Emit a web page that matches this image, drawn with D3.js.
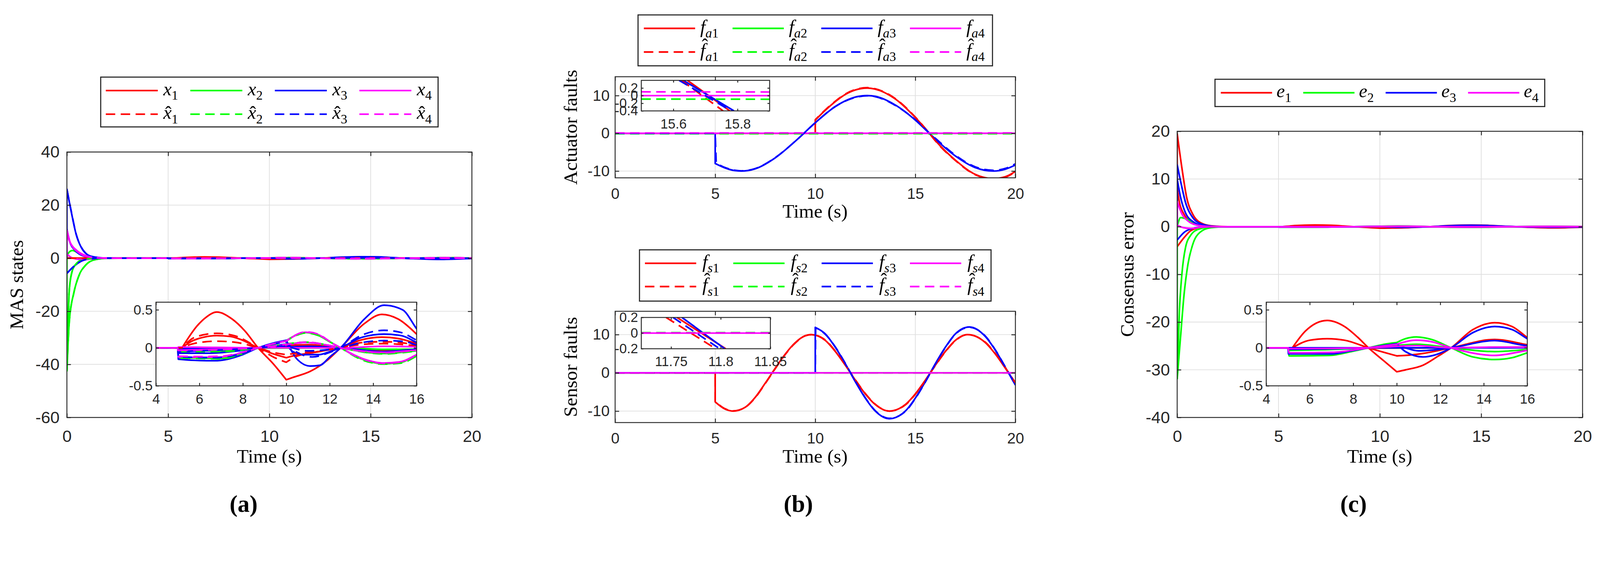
<!DOCTYPE html>
<html>
<head>
<meta charset="utf-8">
<title>MAS states, faults and consensus error</title>
<script src="https://d3js.org/d3.v7.min.js"></script>
<style>
  html, body { margin: 0; padding: 0; background: #fff; overflow: hidden; }
</style>
</head>
<body>
<script>
// ---------------- ticks ----------------
var xtMain = [0, 5, 10, 15, 20];
var ytA = [-60, -40, -20, 0, 20, 40];
var ytB = [-10, 0, 10];
var ytC = [-40, -30, -20, -10, 0, 10, 20];
var xtInset = [4, 6, 8, 10, 12, 14, 16];
var ytInset = [-0.5, 0, 0.5];
var xtInsetFa = [15.6, 15.8];
var ytInsetFa = [-0.4, -0.2, 0, 0.2];
var xtInsetFs = [11.75, 11.8, 11.85];
var ytInsetFs = [-0.2, 0, 0.2];

// ---------------- panel (a): states (solid) and estimates (dashed), [t, value] ----------------
// a repeated time value marks a corner / jump
var xa_r1 = [[0,0],[2,0],[4,0],[5.2,0],[5.2,0],[5.9,0.29],[6.3,0.40],[6.8,0.47],[7.5,0.38],[8.1,0.22],[8.7,0],[9.4,-0.21],[10,-0.42],[10,-0.42],[10.3,-0.39],[11.1,-0.31],[11.9,-0.16],[12.5,0],[13.6,0.32],[14.4,0.44],[15.2,0.37],[16,0.18],[17,-0.12],[18.2,-0.35],[19.2,-0.25],[20,-0.05]];
var xa_r2 = [[0,0],[5.2,0],[5.2,0],[5.6,0.08],[6.2,0.14],[6.8,0.16],[7.4,0.15],[7.9,0.11],[8.7,0],[9.3,-0.07],[10,-0.13],[10,-0.13],[10.4,-0.10],[11.1,-0.07],[11.9,-0.03],[12.5,0],[13.4,0.10],[14.4,0.14],[15.2,0.12],[16,0.055],[17.5,-0.08],[19,-0.1],[20,-0.02]];
var xa_r3 = [[0,0],[5.2,0],[6.8,-0.03],[8.7,0],[10,0.03],[11,0.04],[12.5,0],[14.4,-0.04],[16,-0.02],[20,0.02]];
var xa_g1 = [[0,0],[0,-42.5],[0.12,-23.6],[0.34,-13.1],[0.58,-6.8],[0.93,-2.6],[1.41,-0.5],[2,-0.05],[3,0],[5,0],[5,0],[5.03,-0.13],[5.03,-0.13],[6,-0.135],[7,-0.14],[7.9,-0.08],[8.7,0],[9.5,0.06],[10,0.095],[10,0.095],[10.4,0.16],[10.9,0.2],[11.5,0.16],[12,0.08],[12.5,0],[13.5,-0.15],[14.5,-0.21],[15.3,-0.19],[16,-0.10],[17.5,0.1],[19,0.18],[20,0.08]];
var xa_g2 = [[0,-42],[0.05,-29],[0.11,-13],[0.23,-5.8],[0.46,-2.1],[0.82,-0.5],[1.5,0],[5,0],[5,0],[5.03,-0.04],[5.03,-0.04],[7,-0.04],[8.7,0],[10,0.047],[10,0.047],[10.9,0.07],[12,0.03],[12.5,0],[14.5,-0.075],[16,-0.04],[20,0.02]];
var xa_g3 = [[0,0],[0.1,2.2],[0.28,2.9],[0.64,1.6],[1.23,0.26],[2,0],[5,0],[5.03,-0.01],[12.5,0],[14.5,-0.02],[20,0]];
var xa_b1 = [[0,0],[0,26],[0.22,17.3],[0.46,8.9],[0.7,4.2],[0.93,1.8],[1.3,0.5],[1.8,0.1],[2.5,0],[4,0],[5,0],[5,0],[5.03,-0.15],[5.03,-0.15],[5.8,-0.165],[6.7,-0.17],[7.3,-0.15],[7.9,-0.10],[8.7,0],[9.5,0.07],[10,0.10],[10,0.10],[10.5,-0.15],[11.1,-0.24],[11.55,-0.23],[12,-0.12],[12.5,0],[13.6,0.38],[14.5,0.56],[15.35,0.50],[16,0.25],[17,-0.12],[18.3,-0.45],[19.3,-0.3],[20,-0.1]];
var xa_b2 = [[0,11],[0.15,6],[0.4,3],[0.7,1.2],[1.2,0.3],[2,0],[5,0],[5,0],[5.03,-0.07],[5.03,-0.07],[6.5,-0.07],[7.8,-0.04],[8.7,0],[9.5,0.03],[10,0.05],[10,0.05],[10.3,-0.05],[10.8,-0.09],[11.5,-0.09],[12,-0.05],[12.5,0],[13.5,0.14],[14.5,0.18],[15.3,0.16],[16,0.07],[17.5,-0.12],[19,-0.14],[20,-0.05]];
var xa_b3 = [[0,-5.7],[0.34,-3.1],[0.7,-1.15],[1.1,-0.3],[1.8,0],[5,0],[5,0],[5.03,-0.01],[5.03,-0.01],[8.7,0],[10,0.01],[11,0.02],[12.5,0],[14.5,-0.05],[16,-0.02],[20,0]];
var xa_m1 = [[0,0],[0,10.5],[0.17,5.8],[0.46,3.1],[0.82,1.3],[1.29,0.26],[2,0],[5,0],[5,0],[5.03,-0.12],[5.03,-0.12],[6,-0.125],[7,-0.12],[7.9,-0.07],[8.7,0],[9.5,0.06],[10,0.09],[10,0.09],[10.4,0.16],[10.9,0.205],[11.5,0.17],[12,0.08],[12.5,0],[13.5,-0.14],[14.5,-0.2],[15.3,-0.18],[16,-0.09],[17.5,0.1],[19,0.17],[20,0.07]];
var xa_m2 = [[0,10],[0.1,7],[0.3,4.2],[0.6,2],[1,0.6],[1.6,0.1],[2.2,0],[5,0],[5,0],[5.03,-0.03],[5.03,-0.03],[8.7,0],[10,0.04],[10.9,0.07],[12,0.03],[12.5,0],[14.5,-0.06],[16,-0.03],[20,0]];
var xa_m3 = [[0,1.6],[0.22,0.26],[0.46,-0.3],[0.8,-0.5],[1.2,-0.3],[1.8,-0.05],[2.5,0],[5,0],[5.03,0.01],[8.7,0],[12.5,0],[14.5,0.02],[16,0.015],[20,0]];
var xa_rd1 = [[0,0],[5.2,0],[5.2,0],[5.8,0.14],[6.8,0.19],[7.6,0.16],[8.7,0],[9.4,-0.12],[10,-0.19],[10,-0.19],[10.4,-0.12],[11.1,-0.07],[12,-0.02],[12.5,0],[13.5,0.07],[14.5,0.08],[15.5,0.06],[16,0.03],[18,-0.06],[20,0]];
var xa_rd2 = [[0,0],[5.2,0],[5.2,0],[5.8,0.06],[6.8,0.087],[7.6,0.075],[8.7,0],[9.4,-0.06],[10,-0.09],[10,-0.09],[10.5,-0.07],[11.3,-0.05],[12.5,0],[13.5,0.045],[14.5,0.055],[16,0.03],[20,0]];
var xa_gd1 = [[0,-42.5],[0.12,-23.8],[0.34,-13.2],[0.58,-6.9],[0.93,-2.6],[1.41,-0.5],[2,-0.05],[3,0],[5,0],[5,0],[5.03,-0.135],[5.03,-0.135],[6,-0.14],[7,-0.145],[7.9,-0.085],[8.7,0],[9.5,0.055],[10,0.09],[10,0.09],[10.4,0.155],[10.9,0.195],[11.5,0.16],[12,0.08],[12.5,0],[13.5,-0.16],[14.5,-0.215],[15.3,-0.2],[16,-0.11],[17.5,0.1],[19,0.18],[20,0.08]];
var xa_gd2 = [[0,-42],[0.05,-29],[0.11,-13],[0.23,-5.8],[0.46,-2.1],[0.82,-0.5],[1.5,0],[5,0],[5,0],[5.03,-0.05],[5.03,-0.05],[7,-0.05],[8.7,0],[10,0.05],[10,0.05],[10.9,0.075],[12,0.03],[12.5,0],[14.5,-0.08],[16,-0.045],[20,0.02]];
var xa_bd1 = [[0,26],[0.22,17.5],[0.46,9],[0.7,4.3],[0.93,1.9],[1.3,0.5],[1.8,0.1],[2.5,0],[5,0],[5,0],[5.03,-0.12],[5.03,-0.12],[6.7,-0.13],[7.9,-0.08],[8.7,0],[10,0.08],[10,0.08],[10.5,-0.06],[11.2,-0.12],[12,-0.06],[12.5,0],[13.5,0.17],[14.5,0.23],[15.3,0.2],[16,0.1],[18,-0.16],[20,-0.05]];
var xa_bd2 = [[0,-5.7],[0.34,-3.1],[0.7,-1.15],[1.1,-0.3],[1.8,0],[5,0],[5,0],[5.03,-0.05],[5.03,-0.05],[8.7,0],[10,0.03],[10,0.03],[11,-0.04],[12.5,0],[13.5,0.07],[14.5,0.095],[15.5,0.08],[16,0.04],[20,0]];
var xa_md1 = [[0,10.5],[0.17,5.8],[0.46,3.1],[0.82,1.3],[1.29,0.26],[2,0],[5,0],[5,0],[5.03,-0.11],[5.03,-0.11],[6,-0.115],[7,-0.11],[7.9,-0.065],[8.7,0],[9.5,0.06],[10,0.09],[10,0.09],[10.4,0.165],[10.9,0.21],[11.5,0.175],[12,0.085],[12.5,0],[13.5,-0.145],[14.5,-0.205],[15.3,-0.185],[16,-0.095],[17.5,0.1],[19,0.17],[20,0.07]];
var xa_md2 = [[0,10],[0.1,7],[0.3,4.2],[0.6,2],[1,0.6],[1.6,0.1],[2.2,0],[5,0],[5,0],[5.03,-0.035],[5.03,-0.035],[8.7,0],[10,0.045],[10.9,0.075],[12,0.03],[12.5,0],[14.5,-0.065],[16,-0.035],[20,0]];

// ---------------- panel (b): actuator and sensor faults ----------------
var fa1  = [[0,0],[10,0],[10,0],[10,3.5],[10,3.5],[10.5,6.1],[11,8.4],[11.5,10.3],[12,11.5],[12.6,12],[13,11.7],[14,9.1],[15,4.2],[15.7,0],[16,-1.9],[17,-7.1],[18,-10.9],[18.9,-12],[19.5,-11.5],[20,-10.1]];
var fa1h = [[0,0],[10,0],[10,0],[10,3.6],[10,3.6],[10.5,6.2],[11,8.5],[11.5,10.4],[12,11.6],[12.6,12.1],[13,11.8],[14,9.2],[15,4.3],[15.7,0],[16,-2],[17,-7.2],[18,-11],[18.9,-12.1],[19.5,-11.6],[20,-10.2]];
var fa2  = [[0,0],[20,0]];
var fa2h = [[0,-0.09],[20,-0.09]];
var fa3  = [[0,0],[5,0],[5,0],[5,-8],[5,-8],[5.5,-9.2],[6,-9.9],[6.3,-10],[7,-9.4],[8,-6.5],[9,-2.1],[10,2.8],[11,7.1],[12,9.6],[12.6,10],[13,9.8],[14,7.5],[15,3.5],[15.7,0],[16,-1.5],[17,-6],[18,-9.1],[18.9,-10],[19.5,-9.5],[20,-8.4]];
var fa3h = [[0,0],[5,0],[5,0],[5.05,-7.9],[5.05,-7.9],[5.5,-9.1],[6,-9.8],[6.3,-9.95],[7,-9.35],[8,-6.45],[9,-2.1],[10,2.8],[11,7.1],[12,9.5],[12.6,9.95],[13,9.7],[14,7.4],[15,3.6],[15.7,0.1],[16,-1.3],[17,-5.8],[18,-8.9],[18.9,-9.8],[19.5,-9.3],[20,-8.1]];
var fa4  = [[0,0],[20,0]];
var fa4h = [[0,0.1],[20,0.1]];

var fs1  = [[0,0],[5,0],[5,0],[5,-7.6],[5,-7.6],[5.5,-9.5],[5.9,-10],[6.5,-9],[7,-6.4],[7.5,-2.7],[8,1.2],[8.5,4.9],[9,7.9],[9.5,9.7],[9.8,10],[10.5,8.5],[11,5.6],[11.5,2],[12,-1.9],[12.5,-5.5],[13,-8.3],[13.7,-10],[14.5,-8.3],[15,-5.5],[15.5,-1.9],[16,2],[16.5,5.6],[17,8.5],[17.6,10],[18.5,7.9],[19,4.9],[19.5,1.2],[20,-2.7]];
var fs1h = [[0,0],[5,0],[5,0],[5,-7.5],[5,-7.5],[5.5,-9.4],[5.9,-9.95],[6.5,-9],[7,-6.5],[7.5,-2.8],[8,1.1],[8.5,4.8],[9,7.8],[9.5,9.7],[9.8,10],[10.5,8.6],[11,5.7],[11.5,2.1],[12,-1.8],[12.5,-5.4],[13,-8.2],[13.7,-10],[14.5,-8.4],[15,-5.6],[15.5,-2],[16,1.9],[16.5,5.5],[17,8.4],[17.6,10],[18.5,8],[19,5],[19.5,1.3],[20,-2.6]];
var fs2  = [[0,0],[20,0]];
var fs2h = [[0,0.01],[20,0.01]];
var fs3  = [[0,0],[10,0],[10,0],[10,11.9],[10,11.9],[10.5,10.2],[11,6.7],[11.5,2.4],[12,-2.3],[12.5,-6.6],[13,-10],[13.7,-12],[14.5,-10],[15,-6.6],[15.5,-2.3],[16,2.4],[16.5,6.7],[17,10.2],[17.7,12],[18.5,9.5],[19,5.9],[19.5,1.4],[20,-3.2]];
var fs3h = [[0,0],[10,0],[10,0],[10.02,11.8],[10.02,11.8],[10.5,10.1],[11,6.8],[11.5,2.5],[12,-2.2],[12.5,-6.5],[13,-9.9],[13.7,-11.9],[14.5,-10.1],[15,-6.7],[15.5,-2.4],[16,2.3],[16.5,6.6],[17,10.1],[17.7,11.9],[18.5,9.6],[19,6],[19.5,1.5],[20,-3.1]];
var fs4  = [[0,0],[20,0]];
var fs4h = [[0,0],[20,0]];

// zoomed windows of panel (b)
var za_fa1  = [[15.644,0.4],[15.776,-0.4]];
var za_fa1h = [[15.625,0.4],[15.755,-0.4]];
var za_fa2h = [[15.5,-0.09],[15.9,-0.095]];
var za_fa3  = [[15.631,0.4],[15.789,-0.4]];
var za_fa3h = [[15.618,0.4],[15.78,-0.4]];
var za_fa4  = [[15.5,0],[15.9,0]];
var za_fa4h = [[15.5,0.1],[15.9,0.095]];
var zs_fs1  = [[11.756,0.2],[11.805,-0.2]];
var zs_fs1h = [[11.745,0.2],[11.795,-0.2]];
var zs_fs2h = [[11.72,0.006],[11.85,0.006]];
var zs_fs3  = [[11.761,0.2],[11.804,-0.2]];
var zs_fs3h = [[11.752,0.2],[11.799,-0.2]];
var zs_fs4  = [[11.72,0],[11.85,0]];
var zs_fs4h = [[11.72,0.002],[11.85,0.002]];

// ---------------- panel (c): consensus error ----------------
var ec_r1 = [[0,0],[0,19.5],[0.24,12.1],[0.47,6.1],[0.77,2.6],[1.12,0.9],[1.66,0.18],[2.5,0],[5,0],[5.2,0],[5.2,0],[5.8,0.22],[6.8,0.36],[7.6,0.28],[8.2,0.14],[8.7,0],[9.4,-0.17],[10,-0.315],[10,-0.315],[10.4,-0.29],[11.2,-0.23],[11.9,-0.11],[12.5,0],[13.5,0.24],[14.5,0.33],[15.3,0.28],[16,0.135],[17.2,-0.1],[18.5,-0.25],[20,-0.1]];
var ec_r2 = [[0,8.2],[0.11,5.1],[0.34,2.6],[0.6,1.2],[1,0.4],[1.6,0.05],[2.5,0],[5.2,0],[5.2,0],[6,0.10],[6.8,0.12],[7.6,0.1],[8.7,0],[10,-0.106],[10,-0.106],[10.4,-0.1],[11.2,-0.074],[12.5,0],[14.5,0.11],[16,0.04],[18,-0.08],[20,-0.03]];
var ec_r3 = [[0,-4.2],[0.34,-2.3],[0.65,-0.9],[1.1,-0.2],[1.8,0],[5,0],[5.2,-0.01],[12.5,0],[16,0.01],[20,0]];
var ec_g1 = [[0,0],[0,-31.9],[0.11,-17.7],[0.24,-9.6],[0.41,-4.4],[0.65,-1.9],[1.07,-0.5],[1.8,0],[5,0],[5,0],[5.05,-0.106],[5.05,-0.106],[6.9,-0.1],[7.9,-0.05],[8.7,0],[9.5,0.05],[10,0.07],[10,0.07],[10.4,0.12],[10.9,0.143],[11.6,0.11],[12.5,0],[13.5,-0.12],[14.5,-0.154],[15.3,-0.13],[16,-0.066],[17.5,0.06],[18.5,0.08],[20,0.02]];
var ec_g2 = [[0,-31.9],[0.17,-22.9],[0.34,-14.2],[0.53,-7.9],[0.77,-3.7],[1.12,-1.2],[1.66,-0.2],[2.5,0],[5,0],[5,0],[5.05,-0.034],[5.05,-0.034],[8.7,0],[10,0.03],[10,0.03],[10.9,0.047],[12.5,0],[14.5,-0.05],[16,-0.025],[20,0]];
var ec_g3 = [[0,0],[0.17,1.9],[0.47,1.6],[0.95,0.5],[1.6,0.05],[2.5,0],[5,0],[20,0]];
var ec_b1 = [[0,0],[0,13],[0.18,9.3],[0.41,5.1],[0.77,1.9],[1.24,0.5],[1.9,0.05],[2.5,0],[5,0],[5,0],[5.02,-0.08],[5.02,-0.08],[7,-0.08],[7.9,-0.04],[8.7,0],[9.5,0.035],[10,0.055],[10,0.055],[10.4,-0.05],[11.2,-0.12],[11.8,-0.09],[12.5,0],[13.5,0.2],[14.5,0.28],[15.3,0.24],[16,0.12],[17.5,-0.08],[18.5,-0.12],[20,-0.08]];
var ec_b2 = [[0,10],[0.15,6.5],[0.4,3],[0.8,1],[1.3,0.2],[2,0],[5,0],[5,0],[5.02,-0.02],[5.02,-0.02],[8.7,0],[10,0.02],[11,-0.04],[12.5,0],[14.5,0.095],[16,0.03],[20,0]];
var ec_b3 = [[0,-2.8],[0.34,-1.2],[0.77,-0.35],[1.3,-0.05],[2,0],[5,0],[20,0]];
var ec_m1 = [[0,0],[0,5.25],[0.24,2.6],[0.53,1.2],[0.95,0.35],[1.6,0.05],[2.5,0],[5,0],[5,0],[5.05,-0.066],[5.05,-0.066],[7,-0.06],[8.7,0],[10,0.047],[10,0.047],[10.9,0.10],[11.6,0.08],[12.5,0],[14.5,-0.1],[16,-0.034],[18,0.06],[20,0.03]];
var ec_m2 = [[0,0.3],[0.3,-0.2],[0.65,-0.35],[1.24,-0.1],[2,0],[5,0],[5.05,-0.01],[8.7,0],[10.9,0.03],[12.5,0],[14.5,0.01],[20,0]];

// ---------------- drawing ----------------
var W = 4401, H = 1446;
var RED = '#ff0000', GREEN = '#00ff00', BLUE = '#0000ff', MAG = '#ff00ff';
var AX = '#262626', GRID = '#dfdfdf';
var SANS = '"Liberation Sans", Arial, sans-serif';
var SERIF = '"Liberation Serif", "Times New Roman", serif';
var DASH = '26,15';
var clipN = 0;

// the whole figure scales with the window width
var svg = d3.select('body').append('svg')
    .attr('viewBox', '0 0 ' + W + ' ' + H)
    .attr('preserveAspectRatio', 'xMinYMin meet')
    .style('width', '100vw').style('height', 'auto').style('display', 'block');
svg.append('rect').attr('width', W).attr('height', H).attr('fill', '#fff');

// split at repeated time values, smooth each piece, join pieces with straight segments
function pathD(data, x, y) {
    var segs = [], cur = [data[0]];
    for (var i = 1; i < data.length; i++) {
        if (data[i][0] === data[i - 1][0]) { segs.push(cur); cur = [data[i]]; }
        else cur.push(data[i]);
    }
    segs.push(cur);
    var gen = d3.line().x(function (d) { return x(d[0]); }).y(function (d) { return y(d[1]); })
        .curve(d3.curveMonotoneX);
    var d = '';
    segs.forEach(function (s, k) {
        var p = s.length > 1 ? gen(s).replace(/Z$/, '') : 'M' + x(s[0][0]) + ',' + y(s[0][1]);
        if (k > 0) p = 'L' + p.slice(1);
        d += p;
    });
    return d;
}

function axes(o) {
    var x = d3.scaleLinear().domain(o.xd).range([o.x, o.x + o.w]);
    var y = d3.scaleLinear().domain(o.yd).range([o.y + o.h, o.y]);
    var g = svg.append('g');
    g.append('rect').attr('x', o.x).attr('y', o.y).attr('width', o.w).attr('height', o.h).attr('fill', '#fff');
    if (o.grid) {
        g.selectAll('.gx').data(o.xt.filter(function (t) { return t > o.xd[0] && t < o.xd[1]; }))
            .join('line').attr('x1', x).attr('x2', x).attr('y1', o.y).attr('y2', o.y + o.h)
            .attr('stroke', GRID).attr('stroke-width', 2);
        g.selectAll('.gy').data(o.yt.filter(function (t) { return t > o.yd[0] && t < o.yd[1]; }))
            .join('line').attr('y1', y).attr('y2', y).attr('x1', o.x).attr('x2', o.x + o.w)
            .attr('stroke', GRID).attr('stroke-width', 2);
    }
    var id = 'clip' + (clipN++);
    g.append('clipPath').attr('id', id).append('rect')
        .attr('x', o.x).attr('y', o.y).attr('width', o.w).attr('height', o.h);
    g.append('g').attr('clip-path', 'url(#' + id + ')')
        .selectAll('path').data(o.series).join('path')
        .attr('d', function (s) { return pathD(s.data, x, y); })
        .attr('fill', 'none').attr('stroke', function (s) { return s.c; })
        .attr('stroke-width', 4.5).attr('stroke-linejoin', 'round')
        .attr('stroke-dasharray', function (s) { return s.dash ? DASH : null; });

    var fmt = function (d) { return String(d); };
    var tl = o.tl;
    var axs = [
        g.append('g').attr('transform', 'translate(0,' + (o.y + o.h) + ')')
            .call(d3.axisBottom(x).tickValues(o.xt).tickSize(-tl).tickPadding(o.padB).tickFormat(fmt)),
        g.append('g').attr('transform', 'translate(0,' + o.y + ')')
            .call(d3.axisTop(x).tickValues(o.xt).tickSize(-tl).tickFormat('')),
        g.append('g').attr('transform', 'translate(' + o.x + ',0)')
            .call(d3.axisLeft(y).tickValues(o.yt).tickSize(-tl).tickPadding(o.padL).tickFormat(fmt)),
        g.append('g').attr('transform', 'translate(' + (o.x + o.w) + ',0)')
            .call(d3.axisRight(y).tickValues(o.yt).tickSize(-tl).tickFormat(''))
    ];
    axs.forEach(function (a) {
        a.select('.domain').remove();
        a.attr('font-family', SANS).attr('font-size', o.fs);
        a.selectAll('line').attr('stroke', AX).attr('stroke-width', 2.5);
        a.selectAll('text').attr('fill', AX);
    });
    g.append('rect').attr('x', o.x).attr('y', o.y).attr('width', o.w).attr('height', o.h)
        .attr('fill', 'none').attr('stroke', AX).attr('stroke-width', 2.5);
}

// one text element: italic base letter, optional hat above it, subscript after it
function mathText(g, x, y, it) {
    var t = g.append('text').attr('x', x).attr('y', y)
        .attr('font-family', SERIF).attr('font-size', 52).attr('fill', '#000');
    var b = t.append('tspan').attr('font-style', 'italic').text(it.base);
    var bw = b.node().getComputedTextLength();
    if (it.hat) {
        var h = t.append('tspan').text('\u02C6');
        var hw = h.node().getComputedTextLength();
        var cx = x + (it.base === 'f' ? 13 : 14);
        h.attr('x', cx - hw / 2).attr('y', y + (it.base === 'f' ? -13 : 2));
    }
    var s = t.append('tspan').attr('font-size', 36).attr('x', x + bw).attr('y', y + 12);
    if (it.subIt) s.append('tspan').attr('font-style', 'italic').text(it.subIt);
    s.append('tspan').text(it.sub);
}

function legend(o) {
    var g = svg.append('g');
    g.append('rect').attr('x', o.x).attr('y', o.y).attr('width', o.w).attr('height', o.h)
        .attr('fill', '#fff').attr('stroke', AX).attr('stroke-width', 3);
    o.items.forEach(function (it, i) {
        var col = i % 4, row = Math.floor(i / 4);
        var lx = o.lx0 + col * o.step, ly = o.rows[row];
        g.append('line').attr('x1', lx).attr('x2', lx + o.len).attr('y1', ly).attr('y2', ly)
            .attr('stroke', it.c).attr('stroke-width', 4.5)
            .attr('stroke-dasharray', it.dash ? DASH : null);
        mathText(g, lx + o.len + o.gap, ly + 13, it);
    });
}

function label(text, x, y, opts) {
    var t = svg.append('text').attr('font-family', SERIF).attr('font-size', opts.fs || 53)
        .attr('fill', '#000').attr('text-anchor', 'middle').text(text);
    if (opts.bold) t.attr('font-weight', 'bold');
    if (opts.rotate) t.attr('transform', 'translate(' + x + ',' + y + ') rotate(-90)').attr('dy', '0.33em');
    else t.attr('x', x).attr('y', y);
}

function ser(list, dash) {
    return list.map(function (p) { return { data: p[0], c: p[1], dash: dash }; });
}

// ----- panel (a) -----
var seriesA = ser([[xa_r1, RED], [xa_r2, RED], [xa_r3, RED], [xa_g1, GREEN], [xa_g2, GREEN], [xa_g3, GREEN],
    [xa_b1, BLUE], [xa_b2, BLUE], [xa_b3, BLUE], [xa_m1, MAG], [xa_m2, MAG], [xa_m3, MAG]], false)
    .concat(ser([[xa_rd1, RED], [xa_rd2, RED], [xa_gd1, GREEN], [xa_gd2, GREEN],
        [xa_bd1, BLUE], [xa_bd2, BLUE], [xa_md1, MAG], [xa_md2, MAG]], true));
axes({ x: 184, y: 418, w: 1114, h: 730, xd: [0, 20], yd: [-60, 40], xt: xtMain, yt: ytA,
    grid: true, tl: 11, fs: 46, padB: 35, padL: 20, series: seriesA });
axes({ x: 429, y: 831, w: 717, h: 230, xd: [4, 16], yd: [-0.5, 0.6], xt: xtInset, yt: ytInset,
    grid: false, tl: 8, fs: 38, padB: 22, padL: 9, series: seriesA });
legend({ x: 277, y: 212, w: 928, h: 137, lx0: 291, step: 232.5, len: 143, gap: 15, rows: [249, 314],
    items: [
        { c: RED, base: 'x', sub: '1' }, { c: GREEN, base: 'x', sub: '2' },
        { c: BLUE, base: 'x', sub: '3' }, { c: MAG, base: 'x', sub: '4' },
        { c: RED, dash: true, hat: true, base: 'x', sub: '1' }, { c: GREEN, dash: true, hat: true, base: 'x', sub: '2' },
        { c: BLUE, dash: true, hat: true, base: 'x', sub: '3' }, { c: MAG, dash: true, hat: true, base: 'x', sub: '4' }
    ] });
label('MAS states', 46, 783, { rotate: true });
label('Time (s)', 741, 1272, {});
label('(a)', 670, 1408, { bold: true, fs: 66 });

// ----- panel (b) -----
var seriesFa = ser([[fa1, RED], [fa2, GREEN], [fa3, BLUE], [fa4, MAG]], false)
    .concat(ser([[fa1h, RED], [fa2h, GREEN], [fa3h, BLUE], [fa4h, MAG]], true));
var seriesFaZoom = ser([[za_fa1, RED], [za_fa3, BLUE], [za_fa4, MAG]], false)
    .concat(ser([[za_fa1h, RED], [za_fa2h, GREEN], [za_fa3h, BLUE], [za_fa4h, MAG]], true));
axes({ x: 1692, y: 211, w: 1101, h: 278, xd: [0, 20], yd: [-11.8, 15], xt: xtMain, yt: ytB,
    grid: true, tl: 11, fs: 42, padB: 28, padL: 15, series: seriesFa });
axes({ x: 1764, y: 221, w: 353, h: 84, xd: [15.5, 15.9], yd: [-0.4, 0.4], xt: xtInsetFa, yt: ytInsetFa,
    grid: false, tl: 6, fs: 37, padB: 22, padL: 9, series: seriesFaZoom });
legend({ x: 1755, y: 41, w: 975, h: 140, lx0: 1771, step: 244, len: 141, gap: 14, rows: [78, 143],
    items: [
        { c: RED, base: 'f', subIt: 'a', sub: '1' }, { c: GREEN, base: 'f', subIt: 'a', sub: '2' },
        { c: BLUE, base: 'f', subIt: 'a', sub: '3' }, { c: MAG, base: 'f', subIt: 'a', sub: '4' },
        { c: RED, dash: true, hat: true, base: 'f', subIt: 'a', sub: '1' }, { c: GREEN, dash: true, hat: true, base: 'f', subIt: 'a', sub: '2' },
        { c: BLUE, dash: true, hat: true, base: 'f', subIt: 'a', sub: '3' }, { c: MAG, dash: true, hat: true, base: 'f', subIt: 'a', sub: '4' }
    ] });
label('Actuator faults', 1570, 350, { rotate: true });
label('Time (s)', 2242, 599, {});

var seriesFs = ser([[fs1, RED], [fs2, GREEN], [fs3, BLUE], [fs4, MAG]], false)
    .concat(ser([[fs1h, RED], [fs2h, GREEN], [fs3h, BLUE], [fs4h, MAG]], true));
var seriesFsZoom = ser([[zs_fs1, RED], [zs_fs3, BLUE], [zs_fs4, MAG]], false)
    .concat(ser([[zs_fs1h, RED], [zs_fs2h, GREEN], [zs_fs3h, BLUE], [zs_fs4h, MAG]], true));
axes({ x: 1692, y: 856, w: 1101, h: 306, xd: [0, 20], yd: [-13, 16.1], xt: xtMain, yt: ytB,
    grid: true, tl: 11, fs: 42, padB: 28, padL: 15, series: seriesFs });
axes({ x: 1764, y: 873, w: 355, h: 86, xd: [11.72, 11.85], yd: [-0.2, 0.2], xt: xtInsetFs, yt: ytInsetFs,
    grid: false, tl: 6, fs: 37, padB: 22, padL: 9, series: seriesFsZoom });
legend({ x: 1759, y: 687, w: 967, h: 141, lx0: 1774, step: 243, len: 141, gap: 17, rows: [724, 788],
    items: [
        { c: RED, base: 'f', subIt: 's', sub: '1' }, { c: GREEN, base: 'f', subIt: 's', sub: '2' },
        { c: BLUE, base: 'f', subIt: 's', sub: '3' }, { c: MAG, base: 'f', subIt: 's', sub: '4' },
        { c: RED, dash: true, hat: true, base: 'f', subIt: 's', sub: '1' }, { c: GREEN, dash: true, hat: true, base: 'f', subIt: 's', sub: '2' },
        { c: BLUE, dash: true, hat: true, base: 'f', subIt: 's', sub: '3' }, { c: MAG, dash: true, hat: true, base: 'f', subIt: 's', sub: '4' }
    ] });
label('Sensor faults', 1570, 1009, { rotate: true });
label('Time (s)', 2242, 1272, {});
label('(b)', 2196, 1408, { bold: true, fs: 66 });

// ----- panel (c) -----
var seriesC = ser([[ec_r1, RED], [ec_r2, RED], [ec_r3, RED], [ec_g1, GREEN], [ec_g2, GREEN], [ec_g3, GREEN],
    [ec_b1, BLUE], [ec_b2, BLUE], [ec_b3, BLUE], [ec_m1, MAG], [ec_m2, MAG]], false);
axes({ x: 3238, y: 361, w: 1115, h: 787, xd: [0, 20], yd: [-40, 20], xt: xtMain, yt: ytC,
    grid: true, tl: 11, fs: 46, padB: 35, padL: 20, series: seriesC });
axes({ x: 3483, y: 831, w: 718, h: 230, xd: [4, 16], yd: [-0.5, 0.6], xt: xtInset, yt: ytInset,
    grid: false, tl: 8, fs: 38, padB: 22, padL: 9, series: seriesC });
legend({ x: 3342, y: 218, w: 907, h: 75, lx0: 3358, step: 226.7, len: 141, gap: 12, rows: [255],
    items: [
        { c: RED, base: 'e', sub: '1' }, { c: GREEN, base: 'e', sub: '2' },
        { c: BLUE, base: 'e', sub: '3' }, { c: MAG, base: 'e', sub: '4' }
    ] });
label('Consensus error', 3101, 755, { rotate: true });
label('Time (s)', 3795, 1272, {});
label('(c)', 3723, 1408, { bold: true, fs: 66 });
</script>
</body>
</html>
